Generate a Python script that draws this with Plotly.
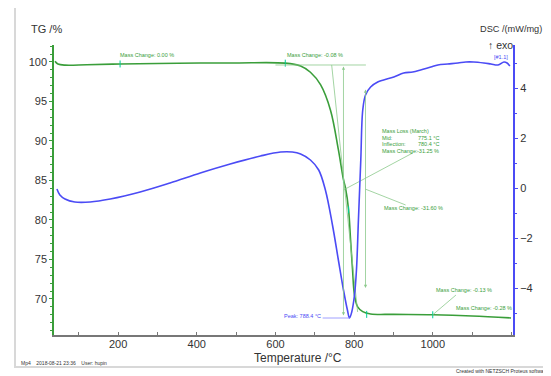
import plotly.graph_objects as go

# ---- data ----
tg_temp = [39.5, 47, 65, 120, 205, 300, 409, 500, 625, 664, 689, 715, 740, 760, 773, 778, 786,
           791, 796, 801, 809, 822, 842, 900, 1000, 1100, 1199]
tg_val = [100.1, 99.75, 99.6, 99.65, 99.75, 99.8, 99.87, 99.88, 99.85, 99.5, 98.7, 97.1, 93.9,
          88.9, 85.1, 84.1, 81.3, 77.5, 73.7, 70.5, 69.0, 68.4, 68.1, 68.05, 68.0, 67.85, 67.6]

dsc_temp = [44.5, 52, 65, 90, 129, 180, 256, 332, 409, 485, 562, 613, 643, 664, 689, 710, 727,
            745, 760, 773, 783, 788.4, 794, 801, 806, 811, 817, 822, 829, 842, 860, 875, 901,
            926, 949, 969, 995, 1013, 1038, 1064, 1084, 1104, 1130, 1148, 1166, 1181, 1189, 1196]
dsc_val = [-0.04, -0.28, -0.44, -0.56, -0.56, -0.44, -0.16, 0.2, 0.6, 0.96, 1.28, 1.44, 1.44,
           1.36, 1.12, 0.72, -0.08, -1.48, -2.88, -4.08, -4.88, -5.2, -4.96, -4.28, -3.28, -1.28,
           1.12, 3.12, 3.72, 4.04, 4.24, 4.32, 4.44, 4.6, 4.64, 4.72, 4.84, 4.92, 4.96, 5.0, 5.04,
           5.04, 5.0, 4.96, 4.92, 5.04, 5.0, 4.88]

x_ticks = [200, 400, 600, 800, 1000]
tg_ticks = [70, 75, 80, 85, 90, 95, 100]
dsc_ticks = [-4, -2, 0, 2, 4]

mark_temp = [205, 625, 773, 786, 832, 1000]
mark_tg = [99.75, 99.85, 85.1, 81.3, 68.05, 68.0]

GREEN = "#3a9e3a"
LGREEN = "#8cc98c"
BLUE = "#4b4bf5"
TXT = "#333333"
FONT = "Liberation Sans, Arial, sans-serif"

# the page body adds an 8 px margin; the figure is sized to fit the 551x376 window
OFF = 8

fig = go.Figure()
fig.add_trace(go.Scatter(x=tg_temp, y=tg_val, mode="lines", line=dict(color=GREEN, width=1.6),
                         line_shape="spline", yaxis="y", showlegend=False, hoverinfo="skip"))
fig.add_trace(go.Scatter(x=dsc_temp, y=dsc_val, mode="lines", line=dict(color=BLUE, width=1.6),
                         line_shape="spline", yaxis="y2", showlegend=False, hoverinfo="skip"))
fig.add_trace(go.Scatter(x=mark_temp, y=mark_tg, mode="markers", yaxis="y", showlegend=False,
                         marker=dict(symbol="line-ns-open", size=5, line=dict(color="#555", width=1)),
                         hoverinfo="skip"))

# helper lines (tangents / leaders)
helper = [
    ([600, 830], [99.62, 99.62]),
    ([743, 809], [99.62, 68.35]),
    ([949, 773], [88.48, 83.8]),
    ([829, 931], [83.9, 81.9]),
    ([1059, 1000], [70.5, 68.0]),
]
for hx, hy in helper:
    fig.add_trace(go.Scatter(x=hx, y=hy, mode="lines", line=dict(color=LGREEN, width=0.8),
                             yaxis="y", showlegend=False, hoverinfo="skip"))
fig.add_trace(go.Scatter(x=[720, 788.4], y=[-5.2, -5.2], mode="lines", line=dict(color="#8888ff", width=0.8),
                         yaxis="y2", showlegend=False, hoverinfo="skip"))

ann = []
def txt(x, y, s, color=GREEN, size=5.5, xa="left", yref="y"):
    ann.append(dict(x=x, y=y, xref="x", yref=yref, text=s, showarrow=False, xanchor=xa,
                    yanchor="middle", font=dict(size=size, color=color, family=FONT)))

txt(200, 100.89, "Mass Change: 0.00 %")
txt(625, 100.89, "Mass Change: -0.08 %")
txt(865, 91.3, "Mass Loss (March)")
lines = [("Mid:", "775.1 °C", 90.38), ("Inflection:", "780.4 °C", 89.62), ("Mass Change:", "-31.25 %", 88.77)]
for lab, val, yy in lines:
    txt(865, yy, lab)
    txt(1020, yy, val, xa="right")
txt(870, 81.5, "Mass Change: -31.60 %")
txt(1002, 71.14, "Mass Change: -0.13 %")
txt(1053, 68.86, "Mass Change: -0.28 %")
txt(720, -5.12, "Peak: 788.4 °C", color=BLUE, xa="right", yref="y2")
txt(1173, 5.24, "[#1.1]", color=BLUE, xa="center", yref="y2")

# double arrows
for ax_, y0, y1 in [(773, 99.62, 67.9), (829, 96.7, 71.4)]:
    ann.append(dict(x=ax_, y=y1, ax=ax_, ay=y0, xref="x", yref="y", axref="x", ayref="y",
                    showarrow=True, arrowhead=2, arrowsize=0.8, arrowwidth=0.8,
                    arrowcolor=LGREEN, arrowside="end+start", text=""))

def ptxt(px, py, s, size, color=TXT, xa="center", ya="middle"):
    ann.append(dict(x=(px - 54) / 459, y=(335 - py) / 290, xref="paper", yref="paper", text=s,
                    showarrow=False, xanchor=xa, yanchor=ya, borderpad=0,
                    font=dict(size=size, color=color, family=FONT)))

ptxt(46, 29, "TG /%", 11)
ptxt(511, 29, "DSC /(mW/mg)", 9.2)
ptxt(500, 45, "↑ exo", 10.5)
ptxt(298, 358, "Temperature /°C", 12)
ptxt(20, 363, "Mp4    2018-08-21 23:36    User: hupin", 5, xa="left")
ptxt(549, 371, "Created with NETZSCH Proteus software", 5, xa="right")

fig.update_layout(
    width=551 - OFF, height=376 - OFF,
    margin=dict(l=54 - OFF, r=38, t=45 - OFF, b=41),
    paper_bgcolor="white", plot_bgcolor="white",
    font=dict(family=FONT, size=11, color=TXT),
    annotations=ann,
    shapes=[dict(type="rect", xref="paper", yref="paper", x0=-0.085, x1=1.076, y0=-0.110, y1=1.138,
                 line=dict(color="#d8d8d8", width=2), layer="below")],
    xaxis=dict(range=[37, 1204], tickvals=x_ticks, showgrid=False, zeroline=False, showline=True,
               linecolor="#777", linewidth=1.5, ticks="inside", ticklen=3, tickcolor="#777",
               minor=dict(dtick=100, tick0=0, ticks="inside", ticklen=3, tickcolor="#777"),
               tickfont=dict(size=11, color=TXT), ticklabelstandoff=-2),
    yaxis=dict(range=[65.44, 102.15], tickvals=tg_ticks, showgrid=False, zeroline=False, showline=True,
               linecolor=GREEN, linewidth=1.5, ticks="outside", ticklen=3, tickcolor=GREEN,
               minor=dict(dtick=1, tick0=0, ticks="outside", ticklen=2, tickcolor=GREEN),
               tickfont=dict(size=11, color=TXT)),
    yaxis2=dict(range=[-5.88, 5.72], tickvals=dsc_ticks, overlaying="y", side="right", showgrid=False,
                zeroline=False, showline=True, linecolor=BLUE, linewidth=2, ticks="outside", ticklen=3,
                tickcolor=BLUE, minor=dict(dtick=1, tick0=0, ticks="outside", ticklen=2, tickcolor=BLUE),
                tickfont=dict(size=11, color=TXT)),
)

fig.write_html("out.html")
